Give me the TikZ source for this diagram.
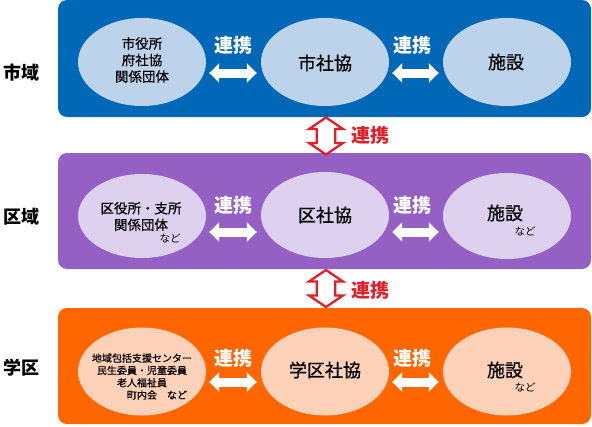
\documentclass[tikz,border=0pt]{standalone}
\usepackage{fontspec}
\setmainfont{Noto Sans CJK JP}
\newfontfamily\jpmed{Noto Sans CJK JP}[FakeBold=0.7]
\usetikzlibrary{shapes.geometric,arrows.meta,calc}
\definecolor{cblue}{RGB}{0,104,183}
\definecolor{cblueL}{RGB}{189,211,235}
\definecolor{cpurp}{RGB}{148,96,196}
\definecolor{cpurpL}{RGB}{221,209,239}
\definecolor{corg}{RGB}{255,102,0}
\definecolor{corgL}{RGB}{253,210,184}
\definecolor{cred}{RGB}{224,32,40}
\tikzset{
  panel/.style={rectangle, rounded corners=9pt, minimum width=533pt, minimum height=117pt, inner sep=0pt, draw=none},
  oval/.style={ellipse, minimum width=128pt, minimum height=88pt, inner sep=0pt, draw=none},
  big/.style={font=\jpmed\fontsize{18}{22}\selectfont},
  mid/.style={font=\jpmed\fontsize{13.5}{16.5}\selectfont, align=center},
  small/.style={font=\jpmed\fontsize{10}{12.3}\selectfont, align=center},
  nado/.style={font=\fontsize{10.5}{12}\selectfont},
  region/.style={font=\bfseries\fontsize{18}{22}\selectfont},
  renkei/.style={font=\bfseries\fontsize{19}{22}\selectfont, text=white},
  renkeired/.style={font=\bfseries\fontsize{19}{22}\selectfont, text=cred},
  warrow/.style={draw=white, line width=9pt, {Triangle[length=10pt,width=19pt]}-{Triangle[length=10pt,width=19pt]}},
  redarrow/.style={draw=cred, fill=white, line width=2.3pt, line join=miter},
  pics/updown/.style={code={
    \draw[redarrow] (0,-18.5) -- (17,-7) -- (9.3,-7) -- (9.3,7) -- (17,7) -- (0,18.5) -- (-17,7) -- (-9.3,7) -- (-9.3,-7) -- (-17,-7) -- cycle;
  }}
}
\begin{document}
\begin{tikzpicture}[x=1pt,y=-1pt]
\useasboundingbox (0,0) rectangle (592,426);
% panels
\node[panel, fill=cblue] (p1) at (324.5,58.5) {};
\node[panel, fill=cpurp, minimum height=116pt] (p2) at (324.5,211) {};
\node[panel, fill=corg, minimum height=116pt] (p3) at (324.5,366) {};
% region labels
\node[region] (r1) at (21,73) {市域};
\node[region] (r2) at (21,217) {区域};
\node[region] (r3) at (21,368) {学区};
% row 1
\node[oval, fill=cblueL] (e11) at (142,62) {};
\node[oval, fill=cblueL] (e12) at (325,62) {};
\node[oval, fill=cblueL] (e13) at (507,62) {};
\node[mid] (t11) at (142,60) {市役所\\府社協\\関係団体};
\node[big] (t12) at (325,63) {市社協};
\node[big] (t13) at (506,62) {施設};
% row 2
\node[oval, fill=cpurpL, minimum height=84pt] (e21) at (142,216) {};
\node[oval, fill=cpurpL, minimum height=86pt] (e22) at (325,215) {};
\node[oval, fill=cpurpL, minimum height=86pt] (e23) at (507,216) {};
\node[mid] (t21) at (141,216.5) {区役所・支所\\関係団体};
\node[nado] (n21) at (170,238) {など};
\node[big] (t22) at (325,215) {区社協};
\node[big] (t23) at (505,213) {施設};
\node[nado] (n23) at (525,231) {など};
% row 3
\node[oval, fill=corgL] (e31) at (142,371.5) {};
\node[oval, fill=corgL] (e32) at (325,371.5) {};
\node[oval, fill=corgL] (e33) at (507,371.5) {};
\node[small] (t31) at (142,376.5) {地域包括支援センター\\民生委員・児童委員\\老人福祉員\\\hspace*{30pt}町内会　など};
\node[big] (t32) at (325,370) {学区社協};
\node[big] (t33) at (505,370) {施設};
\node[nado] (n33) at (525,387) {など};
% horizontal arrows
\draw[warrow] ([shift={(3,11)}]e11.east) -- ([shift={(-4,11)}]e12.west);
\draw[warrow] ([shift={(3,11)}]e12.east) -- ([shift={(-4,11)}]e13.west);
\draw[warrow] ([shift={(3,16)}]e21.east) -- ([shift={(-4,17)}]e22.west);
\draw[warrow] ([shift={(3,17)}]e22.east) -- ([shift={(-4,16)}]e23.west);
\draw[warrow] ([shift={(3,10.5)}]e31.east) -- ([shift={(-4,10.5)}]e32.west);
\draw[warrow] ([shift={(3,10.5)}]e32.east) -- ([shift={(-4,10.5)}]e33.west);
\node[renkei] (l11) at (233,45) {連携};
\node[renkei] (l12) at (412,45) {連携};
\node[renkei] (l21) at (233,205) {連携};
\node[renkei] (l22) at (412,205) {連携};
\node[renkei] (l31) at (233,358) {連携};
\node[renkei] (l32) at (412,358) {連携};
% vertical arrows
\coordinate (m1) at ($(p1.south)!0.5!(p2.north)+(1.5,1)$);
\coordinate (m2) at ($(p2.south)!0.5!(p3.north)+(1.5,0)$);
\pic at (m1) {updown};
\pic at (m2) {updown};
\node[renkeired] (v1) at (370,135) {連携};
\node[renkeired] (v2) at (370,290) {連携};
\end{tikzpicture}
\end{document}
